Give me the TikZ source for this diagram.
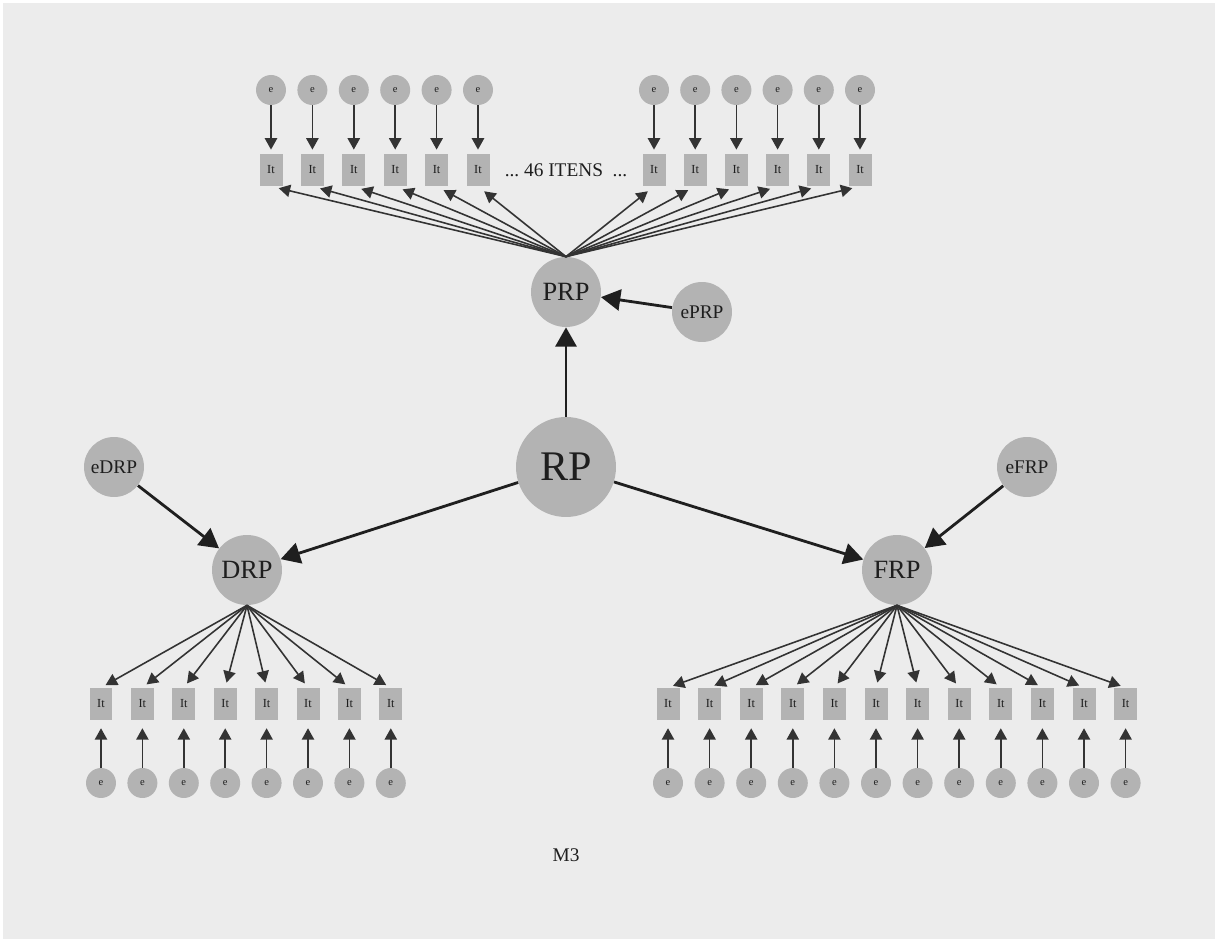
\documentclass[tikz,border=0pt]{standalone}
\usepackage{fontspec}
\setmainfont{Liberation Serif}
\usetikzlibrary{arrows.meta}
\definecolor{bggray}{HTML}{ECECEC}
\definecolor{nodegray}{HTML}{B3B3B3}
\definecolor{arrgray}{HTML}{333333}
\definecolor{txtgray}{HTML}{1E1E1E}

\begin{document}
\begin{tikzpicture}[x=0.02cm, y=-0.02cm, >=Stealth,
  latent/.style={circle, fill=nodegray, text=txtgray, inner sep=0pt},
  errs/.style={circle, fill=nodegray, text=txtgray, minimum size=0.6cm, inner sep=0pt, font=\fontsize{6}{6}\selectfont},
  item/.style={rectangle, fill=nodegray, text=txtgray, minimum width=0.46cm, minimum height=0.64cm, inner sep=0pt, font=\fontsize{7}{7}\selectfont},
  loading/.style={-{Triangle[length=6.5pt, width=7pt]}, arrgray, line width=0.9pt},
  regress/.style={-{Triangle[length=11pt, width=12pt]}, black!88, line width=1.6pt}]
  \fill[white] (0,0) rectangle (1218,942);
  \fill[bggray] (3,3) rectangle (1215,939);

  % latent factors
  \node[latent, minimum size=2cm, font=\fontsize{24}{24}\selectfont] (RP) at (566,467) {RP};
  \node[latent, minimum size=1.4cm, font=\fontsize{15}{15}\selectfont] (PRP) at (566,292) {PRP};
  \node[latent, minimum size=1.4cm, font=\fontsize{15}{15}\selectfont] (DRP) at (247,570) {DRP};
  \node[latent, minimum size=1.4cm, font=\fontsize{15}{15}\selectfont] (FRP) at (897,570) {FRP};
  \node[latent, minimum size=1.2cm, font=\fontsize{11}{11}\selectfont] (ePRP) at (702,312) {ePRP};
  \node[latent, minimum size=1.2cm, font=\fontsize{11}{11}\selectfont] (eDRP) at (114,467) {eDRP};
  \node[latent, minimum size=1.2cm, font=\fontsize{11}{11}\selectfont] (eFRP) at (1027,467) {eFRP};

  \draw[regress] (RP) -- (PRP);
  \draw[regress] (RP) -- (DRP);
  \draw[regress] (RP) -- (FRP);
  \draw[regress] (ePRP) -- (PRP);
  \draw[regress] (eDRP) -- (DRP);
  \draw[regress] (eFRP) -- (FRP);

  % PRP items
  \node[font=\fontsize{11}{11}\selectfont, text=txtgray] (dots) at (566,170) {...\ 46 ITENS\ \ ...};
  \foreach \i in {0,...,5} {
    \node[item] (pl\i) at ({271+41.4*\i},170) {It};
    \node[errs] (epl\i) at ({271+41.4*\i},90) {e};
    \draw[loading, shorten >=2.3pt] (epl\i) -- (pl\i);
    \draw[loading, shorten >=4.5pt] (PRP.north) -- (pl\i.south);
    \node[item] (pr\i) at ({654+41.2*\i},170) {It};
    \node[errs] (epr\i) at ({654+41.2*\i},90) {e};
    \draw[loading, shorten >=2.3pt] (epr\i) -- (pr\i);
    \draw[loading, shorten >=4.5pt] (PRP.north) -- (pr\i.south);
  }

  % DRP items
  \foreach \i in {0,...,7} {
    \node[item] (d\i) at ({101+41.4*\i},704) {It};
    \node[errs] (ed\i) at ({101+41.4*\i},783) {e};
    \draw[loading, shorten >=4.5pt] (ed\i) -- (d\i);
    \draw[loading, shorten >=3pt] (DRP.south) -- (d\i.north);
  }

  % FRP items
  \foreach \i in {0,...,11} {
    \node[item] (f\i) at ({668+41.6*\i},704) {It};
    \node[errs] (ef\i) at ({668+41.6*\i},783) {e};
    \draw[loading, shorten >=4.5pt] (ef\i) -- (f\i);
    \draw[loading, shorten >=3pt] (FRP.south) -- (f\i.north);
  }

  \node[font=\fontsize{11}{11}\selectfont, text=txtgray] (model) at (566,855) {M3};
\end{tikzpicture}
\end{document}
